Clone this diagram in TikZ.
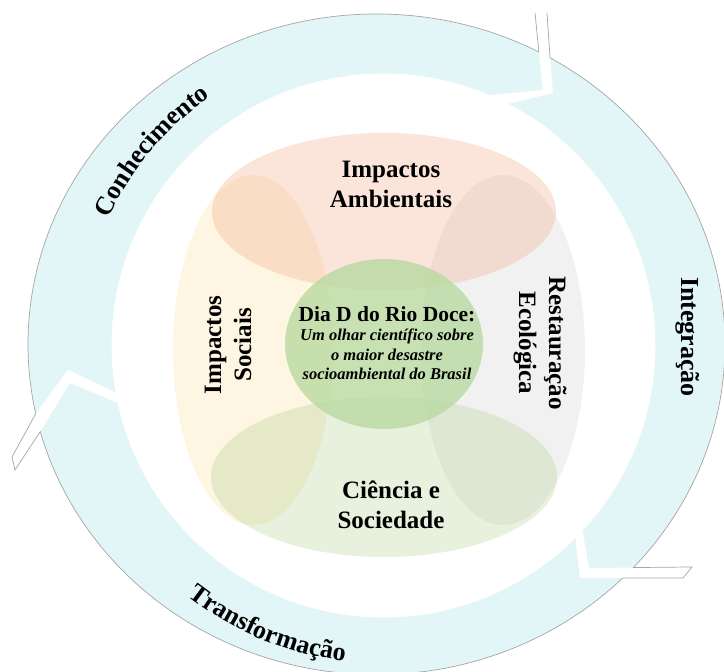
\documentclass[tikz,border=0pt]{standalone}
\usepackage{fontspec}
\setmainfont{Liberation Serif}
\usetikzlibrary{decorations.text}
\definecolor{ringc}{RGB}{226,246,247}
\definecolor{ringline}{RGB}{165,165,165}
\definecolor{topc}{RGB}{240,150,110}
\definecolor{leftc}{RGB}{250,215,140}
\definecolor{rightc}{RGB}{200,200,200}
\definecolor{botc}{RGB}{160,200,120}
\definecolor{cenc}{RGB}{185,218,160}
\begin{document}
\begin{tikzpicture}[x=1pt,y=1pt,
  lbl/.style={font=\bfseries\fontsize{25}{30}\selectfont, align=center, inner sep=0pt},
  ringlbl/.style={font=\bfseries\fontsize{26}{30}\selectfont, inner sep=0pt},
  petal/.style={fill opacity=0.25, draw=none}]
\useasboundingbox (0,0) rectangle (724,672);
\begin{scope}
\clip (0,0) rectangle (724,672);
% ring
\fill[ringc, even odd rule] (376.5,327.7) ellipse [x radius=348.5pt, y radius=330.3pt]
  (383.5,326.5) circle [radius=272pt];
\draw[ringline, line width=0.7pt] (376.5,327.7) ellipse [x radius=348.5pt, y radius=330.3pt];
% gaps between the arrows
\fill[white] (535,659) -- (539,619) -- (543,582) -- (470,575) -- (470,559) -- (553,579) -- (550,615) -- (547,659) -- cycle;
\fill[white] (12,215) -- (35,257) -- (68,302) -- (140,268) -- (140,260) -- (70,289) -- (40,240) -- (15,202) -- cycle;
\fill[white] (572,162) -- (580,94) -- (683,94) -- (692,105) -- (589,104) -- (579,162) -- cycle;
% outlines of the protruding parts (outside the ring only)
\begin{scope}
\clip (-10,-10) -- (-10,690) -- (740,690) -- (740,-10) -- cycle
  (376.5,327.7) ellipse [x radius=348.5pt, y radius=330.3pt];
\draw[ringline, line width=0.7pt] (543,582) -- (539,619) -- (535,659);
\draw[ringline, line width=0.7pt] (553,579) -- (550,615) -- (547,659);
\draw[ringline, line width=0.7pt] (68,302) -- (35,257) -- (12,215) -- (15,202) -- (40,240) -- (70,289);
\draw[ringline, line width=0.7pt] (580,94) -- (683,94) -- (692,105) -- (589,104);
\end{scope}
\end{scope}
% petals
\fill[leftc, petal] (253,322) ellipse [x radius=80pt, y radius=175pt];
\fill[rightc, petal] (503,322) ellipse [x radius=82pt, y radius=175pt];
\fill[topc, petal] (384,460.5) ellipse [x radius=172pt, y radius=78.5pt];
\fill[botc, petal] (384,195) ellipse [x radius=173pt, y radius=80pt];
\fill[cenc, fill opacity=0.8] (384,328) ellipse [x radius=99pt, y radius=85pt];
% labels
\node[lbl] (amb) at (391,488) {Impactos\\Ambientais};
\node[lbl] (cien) at (391,167) {Ciência e\\Sociedade};
\node[lbl, rotate=90] (soc) at (228,327) {Impactos\\Sociais};
\node[lbl, rotate=-90] (rest) at (540,329) {Restauração\\Ecológica};
\node[align=center, inner sep=0pt, font=\bfseries\itshape\fontsize{16.5}{19.5}\selectfont] (dia) at (387,329)
  {{\upshape\fontsize{21.5}{24}\selectfont Dia D do Rio Doce:}\\Um olhar científico sobre\\o maior desastre\\socioambiental do Brasil};
\node[ringlbl, rotate=-90] (integ) at (688,335) {Integração};
\path[decorate, decoration={text along path, text align=center,
  text={|\bfseries\fontsize{26}{30}\selectfont|Conhecimento}}]
  (383.5,326.5) ++(175:303pt) arc[start angle=175, end angle=105, radius=303pt];
\path[decorate, decoration={text along path, text align=center,
  text={|\bfseries\fontsize{26}{30}\selectfont|Transformação}}]
  (383.5,326.5) ++(215:318pt) arc[start angle=215, end angle=280, radius=318pt];
\end{tikzpicture}
\end{document}
